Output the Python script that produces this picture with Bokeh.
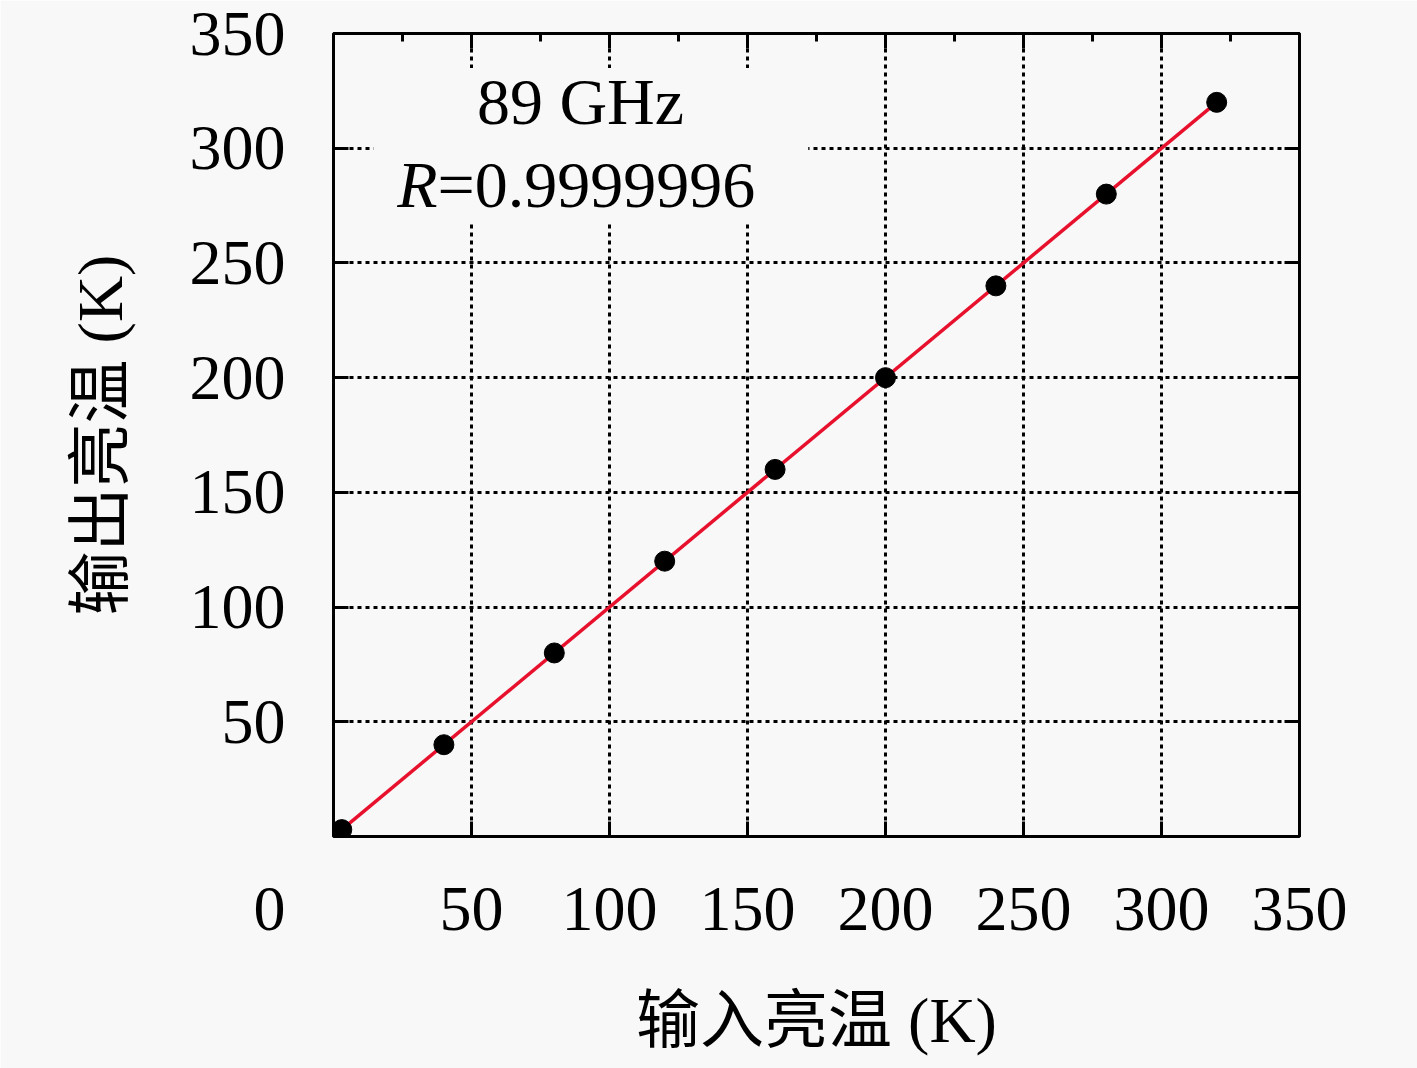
from bokeh.plotting import figure
from bokeh.models import Range1d, FixedTicker, LinearAxis, Label, BoxAnnotation
from bokeh.embed import file_html
from bokeh.resources import INLINE
import numpy as np

# data
input_tb = [3, 40, 80, 120, 160, 200, 240, 280, 320]
output_tb = [3, 40, 80, 120, 160, 200, 240, 280, 320]
tick_values = [50, 100, 150, 200, 250, 300, 350]
minor_values = [25, 75, 125, 175, 225, 275, 325]
grid_values = [50, 100, 150, 200, 250, 300]
freq_text = "89 GHz"
r_text = "=0.9999996"
x_title = "输入亮温 (K)"
y_title = "输出亮温 (K)"

BG = "#f8f8f8"
NUM_FONT = "Liberation Serif"
CJK_FONT = "Liberation Serif, Noto Sans CJK SC"

p = figure(width=1417, height=1068, x_range=Range1d(0, 350), y_range=Range1d(0, 350),
           output_backend="svg", toolbar_location=None,
           min_border_left=333, min_border_right=118, min_border_top=33, min_border_bottom=232,
           background_fill_color=BG, border_fill_color=BG)
p.outline_line_color = "black"
p.outline_line_width = 3

for ax in p.xaxis + p.yaxis:
    ax.axis_line_color = None
    ax.major_tick_in = 15
    ax.major_tick_out = 0
    ax.major_tick_line_width = 3
    ax.major_tick_line_color = "black"
    ax.minor_tick_line_color = None
    ax.major_label_text_font = NUM_FONT
    ax.major_label_text_font_size = "64px"
    ax.major_label_text_color = "black"
    ax.axis_label_text_font = CJK_FONT
    ax.axis_label_text_font_size = "64px"
    ax.axis_label_text_font_style = "normal"
    ax.axis_label_text_color = "black"

# the shared origin label "0" sits left of the frame, below the y tick labels
p.xaxis.ticker = FixedTicker(ticks=[0] + tick_values)
p.xaxis.major_label_overrides = {0: "0" + "\u00a0" * 8}
p.yaxis.ticker = FixedTicker(ticks=tick_values)

p.xaxis.axis_label = x_title
p.yaxis.axis_label = y_title
p.xaxis.major_label_standoff = 36
p.yaxis.major_label_standoff = 48
p.xaxis.axis_label_standoff = 38
p.yaxis.axis_label_standoff = 51

empty = {v: "" for v in tick_values}
top = LinearAxis(ticker=FixedTicker(ticks=tick_values, minor_ticks=minor_values),
                 axis_line_color=None, major_tick_in=15, major_tick_out=0,
                 major_tick_line_width=3, minor_tick_in=8, minor_tick_out=0,
                 minor_tick_line_width=3, major_label_text_font_size="1px",
                 major_label_overrides=empty, major_label_standoff=0)
right = LinearAxis(ticker=FixedTicker(ticks=tick_values),
                   axis_line_color=None, major_tick_in=15, major_tick_out=0,
                   major_tick_line_width=3, minor_tick_line_color=None,
                   major_label_text_font_size="1px", major_label_overrides=empty,
                   major_label_standoff=0)
p.add_layout(top, "above")
p.add_layout(right, "right")

p.xgrid.ticker = FixedTicker(ticks=grid_values)
p.ygrid.ticker = FixedTicker(ticks=grid_values)
for g in (p.xgrid[0], p.ygrid[0]):
    g.grid_line_color = "black"
    g.grid_line_width = 3
    g.grid_line_dash = "4 4"

# opaque box behind the annotation text
p.add_layout(BoxAnnotation(left=14.5, right=172, top=335, bottom=267.5,
                           fill_color=BG, fill_alpha=1, line_color=None, level="underlay"))

# fit line
xs = np.array(input_tb, dtype=float)
ys = np.array(output_tb, dtype=float)
k, b = np.polyfit(xs, ys, 1)
fx = np.array([xs.min(), xs.max()])
p.line(fx, k * fx + b, line_color="#e8112d", line_width=3.5)
p.scatter(input_tb, output_tb, size=20, color="black")

p.add_layout(Label(x=89.5, y=320.4, text=freq_text, text_align="center", text_baseline="alphabetic",
                   text_font=NUM_FONT, text_font_size="66px", text_color="black"))
p.add_layout(Label(x=37.7, y=284.3, text="R", text_align="right", text_baseline="alphabetic",
                   text_font=NUM_FONT, text_font_size="66px", text_font_style="italic", text_color="black"))
p.add_layout(Label(x=37.7, y=284.3, text=r_text, text_align="left", text_baseline="alphabetic",
                   text_font=NUM_FONT, text_font_size="66px", text_color="black"))

open("out.html", "w").write(file_html(p, INLINE))
